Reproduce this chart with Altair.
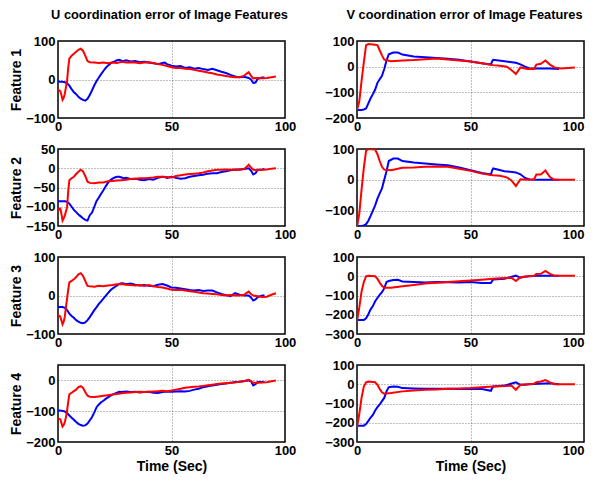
import altair as alt
import pandas as pd

# ---------------- data ----------------
T_UB = [0,1,2,3,4,5,6,7,8,9,10,11,12,13,14,15,16,17,18,19,20,21,22,23,24,25,26,27,28,29,30,
        32,34,36,38,40,42,44,46,47,48,
        50,52,54,56,58,60,62,64,66,68,70,72,74,76,78,80,82,84,
        85,86,87,88,90,91]
T_UR = [0,0.5,1,1.5,2,2.5,3,3.5,4,4.5,5,
        6,7,8,9,10,11,12,13,14,
        16,18,20,22,24,26,28,30,32,34,36,38,40,42,44,46,48,50,52,54,56,58,60,62,64,66,68,70,72,74,76,78,80,82,
        83,84,85,86,88,90,92,94,96]
T_VB = [0,2,3,4,5,6,7,8,9,10,11,12,13,14,16,18,20,25,30,35,40,45,50,55,59,59.5,60,65,70,72,74,76,80,85,89]
T_VR = [0,1,2,3,4,5,8,9,10,11,12,15,20,25,30,35,40,45,50,55,60,63,66,68,70,72,75,78,79,81,83,85,87,90,96]

U1_BLUE = [-5,-6,-6,-7,-10,-16,-25,-33,-38,-45,-50,-53,-55,-50,-40,-28,-15,-4,5,14,22,30,36,41,45,47,50,51,49,48,50,
           47,48,45,46,44,42,40,43,44,40,
           36,34,35,30,32,28,30,27,25,28,24,20,17,12,8,6,7,4,
           0,-9,-8,2,5,5]
U1_RED = [-27,-28,-30,-40,-53,-48,-37,-20,-3,30,54,
          62,67,72,77,80,75,62,48,45,
          44,43,44,42,44,43,46,44,45,44,42,44,45,43,40,38,35,32,30,30,28,27,25,23,21,18,16,13,11,9,7,6,6,10,
          15,19,10,3,4,3,4,6,8]
U2_BLUE = [-86,-86,-86,-86,-87,-92,-100,-108,-114,-120,-125,-130,-134,-136,-122,-115,-100,-85,-76,-66,-57,-47,-38,-31,-27,-24,-22,-22,-24,-26,-25,
           -28,-27,-30,-31,-28,-30,-25,-22,-23,-25,
           -22,-25,-27,-26,-22,-20,-18,-17,-14,-13,-13,-10,-8,-5,-4,-3,-2,0,
           -6,-16,-13,-4,-3,-2]
U2_RED = [-110,-106,-105,-118,-136,-130,-123,-112,-101,-60,-31,
          -26,-22,-15,-9,-4,-8,-20,-35,-38,
          -39,-37,-37,-34,-33,-32,-31,-30,-28,-27,-26,-26,-25,-24,-22,-22,-23,-24,-20,-18,-16,-15,-14,-13,-11,-8,-6,-4,-4,-3,-4,-3,-4,-2,
          3,9,2,-4,-5,-4,-3,-1,0]
U3_BLUE = [-30,-30,-30,-32,-38,-47,-53,-58,-64,-68,-71,-72,-70,-64,-56,-47,-38,-30,-22,-15,-8,-1,6,13,18,22,26,30,32,31,29,
           31,28,26,27,25,24,28,30,28,26,
           21,20,18,16,14,13,14,12,13,13,8,4,1,-2,6,2,0,0,
           -5,-13,-10,-4,0,0]
U3_RED = [-51,-53,-55,-65,-75,-68,-55,-30,-8,15,34,
          38,42,48,55,58,51,38,25,24,
          23,25,24,26,27,29,30,28,27,26,27,25,27,24,22,21,18,15,14,15,13,11,10,8,6,5,4,3,1,0,1,0,0,2,
          6,10,4,0,-2,-4,-3,2,6]
U4_BLUE = [-98,-98,-99,-101,-106,-114,-121,-128,-135,-141,-145,-147,-146,-140,-130,-119,-104,-87,-78,-71,-66,-60,-55,-50,-46,-43,-40,-37,-38,-37,-36,
           -38,-37,-39,-38,-37,-40,-41,-38,-37,-37,
           -37,-36,-35,-36,-34,-30,-27,-22,-19,-17,-14,-12,-10,-8,-5,-4,-2,0,
           -3,-16,-12,-5,-5,-5]
U4_RED = [-124,-125,-126,-138,-150,-145,-135,-120,-98,-70,-45,
          -40,-35,-30,-22,-19,-24,-38,-50,-53,
          -54,-52,-50,-48,-46,-44,-42,-40,-39,-38,-37,-38,-37,-36,-35,-34,-35,-33,-30,-27,-24,-22,-21,-20,-18,-16,-14,-12,-10,-9,-8,-7,-4,-3,
          0,2,-2,-8,-8,-7,-6,-3,0]

V1_BLUE = [-169,-169,-167,-163,-143,-123,-107,-89,-63,-49,-36,-9,24,48,55,55,47,40,37,34,31,27,20,13,8,20,27,21,15,9,0,-7,-7,-7,-9]
V1_RED = [-169,-136,-56,17,84,88,85,84,64,44,27,21,24,26,29,32,28,24,20,13,6,4,0,-13,-29,-3,-9,-9,8,11,24,8,-3,-7,-3]
V2_BLUE = [-150,-150,-148,-144,-133,-117,-100,-83,-61,-44,-28,0,28,61,69,69,61,56,53,50,47,40,31,22,17,30,37,28,24,18,6,1,0,0,0]
V2_RED = [-153,-111,-33,39,94,100,98,83,61,42,33,31,39,40,42,43,42,36,29,20,15,13,8,-2,-20,2,0,2,17,17,30,9,0,0,0]
V3_BLUE = [-227,-227,-227,-218,-197,-172,-155,-130,-113,-97,-83,-63,-30,-25,-19,-18,-27,-30,-32,-30,-31,-33,-30,-35,-35,-25,-17,-13,3,-8,-3,0,2,3,3]
V3_RED = [-233,-163,-80,-30,0,3,0,-13,-33,-50,-60,-60,-52,-45,-38,-34,-30,-26,-22,-18,-13,-11,-9,-8,-25,-5,0,2,12,13,28,12,3,3,3]
V4_BLUE = [-215,-215,-215,-207,-190,-173,-159,-136,-119,-105,-88,-71,-37,-15,-12,-13,-20,-22,-24,-24,-24,-25,-24,-25,-34,-20,-12,-7,10,-3,-2,0,3,5,0]
V4_RED = [-224,-156,-71,-12,10,14,10,-3,-25,-42,-49,-46,-37,-33,-29,-27,-24,-22,-20,-16,-12,-10,-9,-7,-29,-3,0,3,10,14,22,10,0,0,0]

ROW_LABELS = ["Feature 1", "Feature 2", "Feature 3", "Feature 4"]
COL_TITLES = ["U coordination error of Image Features", "V coordination error of Image Features"]
X_TICKS = [0, 50, 100]

U_DOMAINS = [[-100, 100], [-150, 50], [-100, 100], [-200, 50]]
U_TICKS = [[-100, 0, 100], [-150, -100, -50, 0, 50], [-100, 0, 100], [-200, -100, 0]]
V_DOMAINS = [[-200, 100], [-150, 100], [-300, 100], [-300, 100]]
V_TICKS = [[-200, -100, 0, 100], [-100, 0, 100], [-300, -200, -100, 0, 100], [-300, -200, -100, 0, 100]]

U_SERIES = [(U1_BLUE, U1_RED), (U2_BLUE, U2_RED), (U3_BLUE, U3_RED), (U4_BLUE, U4_RED)]
V_SERIES = [(V1_BLUE, V1_RED), (V2_BLUE, V2_RED), (V3_BLUE, V3_RED), (V4_BLUE, V4_RED)]

FONT = "Liberation Sans"
W, H = 227, 77
TITLE_DX = [-2, -6]


def panel(tb, yb, tr, yr, domain, ticks, row, col):
    dfb = pd.DataFrame({"t": tb, "v": yb})
    dfr = pd.DataFrame({"t": tr, "v": yr})
    xax = dict(values=X_TICKS, labelFlush=False, labelOverlap=False)
    if col == 1:
        xax["labelAlign"] = {"condition": {"test": "datum.value == 100", "value": "right"},
                             "value": "center"}
    if row == 3:
        xenc = alt.X("t:Q", scale=alt.Scale(domain=[0, 100], nice=False),
                     axis=alt.Axis(title="Time (Sec)", **xax))
    else:
        xenc = alt.X("t:Q", scale=alt.Scale(domain=[0, 100], nice=False),
                     axis=alt.Axis(title=None, **xax))
    yax = dict(values=ticks, labelOverlap=False)
    if col == 0:
        yenc = alt.Y("v:Q", scale=alt.Scale(domain=domain, nice=False, zero=False),
                     axis=alt.Axis(title=ROW_LABELS[row], **yax))
    else:
        yenc = alt.Y("v:Q", scale=alt.Scale(domain=domain, nice=False, zero=False),
                     axis=alt.Axis(title=None, **yax))
    blue = alt.Chart(dfb).mark_line(color="#0000ff", strokeWidth=2, clip=True).encode(x=xenc, y=yenc)
    red = alt.Chart(dfr).mark_line(color="#ff0000", strokeWidth=2, clip=True).encode(x=xenc, y=yenc)
    ch = alt.layer(blue, red).properties(width=W, height=H)
    if row == 0:
        ch = ch.properties(title=alt.TitleParams(COL_TITLES[col], fontSize=12.8, font=FONT,
                                                 fontWeight="bold", color="black", frame="group",
                                                 anchor="middle", dx=TITLE_DX[col], offset=13))
    return ch


charts = []
for r in range(4):
    charts.append(panel(T_UB, U_SERIES[r][0], T_UR, U_SERIES[r][1], U_DOMAINS[r], U_TICKS[r], r, 0))
    charts.append(panel(T_VB, V_SERIES[r][0], T_VR, V_SERIES[r][1], V_DOMAINS[r], V_TICKS[r], r, 1))

chart = alt.concat(*charts, columns=2, spacing={"row": 31, "column": 72}, bounds="flush").properties(
    padding={"left": 0, "top": 0, "right": 0, "bottom": 0}
).configure_view(
    stroke="black", strokeWidth=1.5
).configure_axis(
    labelFont=FONT, labelFontSize=13, labelFontWeight="bold", labelColor="black",
    titleFont=FONT, titleFontSize=14, titleFontWeight="bold", titleColor="black",
    domain=False, ticks=False, labelPadding=3,
    grid=True, gridColor="#333333", gridDash=[1, 2], gridWidth=0.8, gridOpacity=0.8
).configure_axisY(
    titlePadding=2
).configure_axisX(
    titlePadding=2, labelPadding=2
)

chart.save("out.html", embed_options={"renderer": "svg", "actions": False})
